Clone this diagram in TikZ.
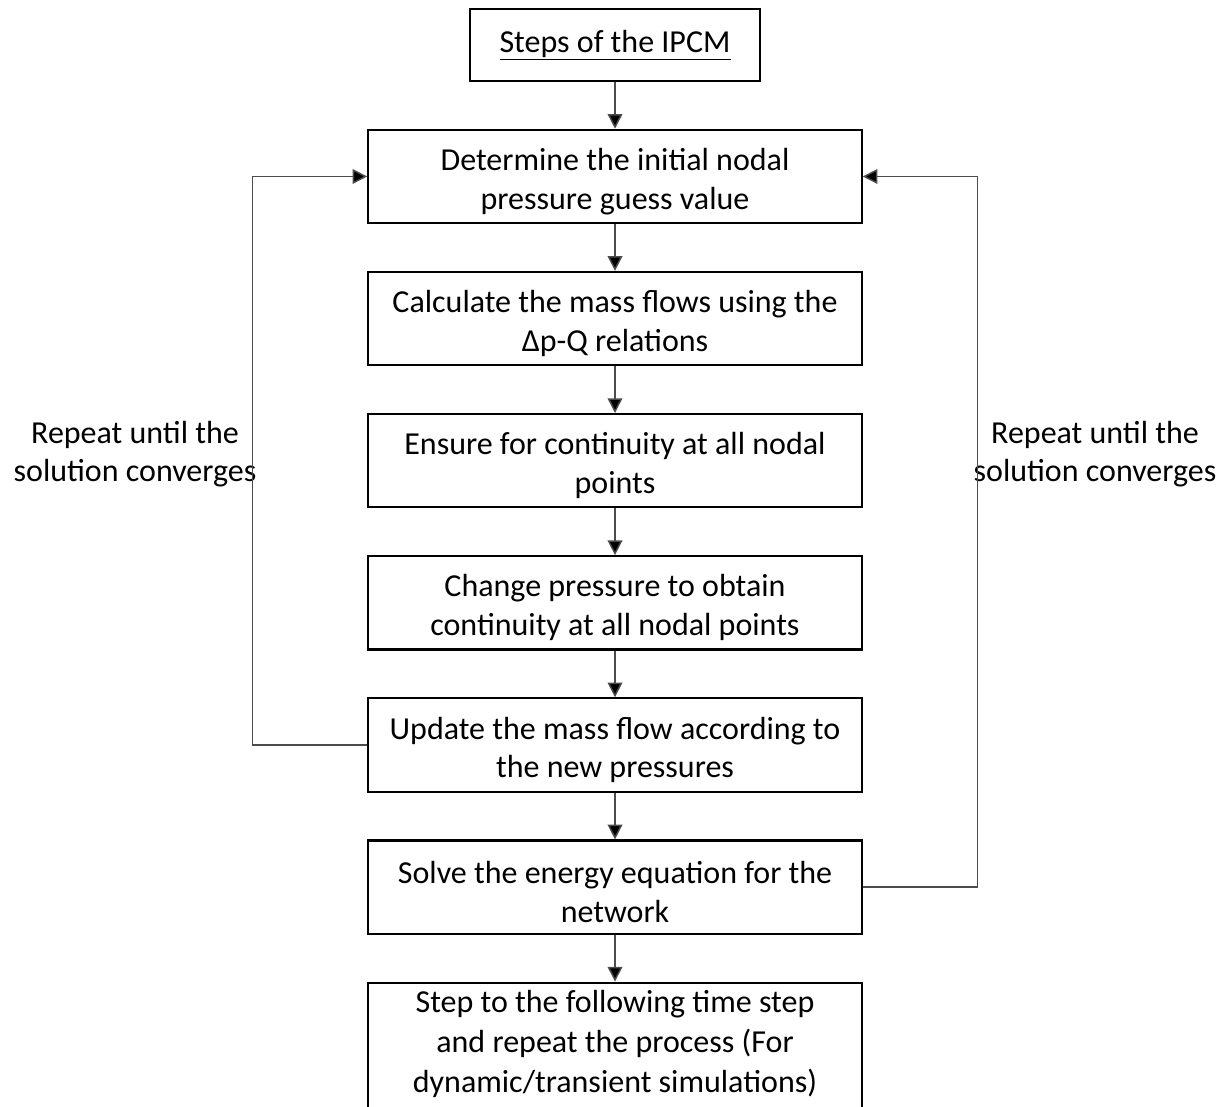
\documentclass[tikz,border=0pt]{standalone}
\usepackage{fontspec}
\setmainfont{Carlito}
\usetikzlibrary{arrows.meta, positioning}

\begin{document}
\begin{tikzpicture}[
    x=0.75pt, y=-0.75pt,
    node distance=35pt,
    every node/.style={
        draw,
        rectangle,
        line width=1.6pt,
        align=center,
        minimum width=370pt,
        minimum height=70pt,
        font=\fontsize{24}{29}\selectfont
    },
    stepbox/.style={text height=53pt},
    arrow/.style={-{Triangle[width=11pt,length=11pt,fill=black]}, line width=1.1pt, draw=black!70},
    note/.style={draw=none, minimum width=0pt, minimum height=0pt}
]
\clip (0,0) rectangle (1227,1106);

% === Title ===
\node[minimum width=217.5pt, minimum height=54pt] (title) at (615,45) {\underline{Steps of the IPCM}};

% === Main steps ===
\node[stepbox, below=of title] (init) {Determine the initial nodal\\pressure guess value};
\node[stepbox, below=of init] (massflow) {Calculate the mass flows using the\\Δp-Q relations};
\node[stepbox, below=of massflow] (continuity) {Ensure for continuity at all nodal\\points};
\node[stepbox, below=of continuity] (pressure) {Change pressure to obtain\\continuity at all nodal points};
\node[stepbox, below=of pressure] (update) {Update the mass flow according to\\the new pressures};
\node[stepbox, below=of update] (energy) {Solve the energy equation for the\\network};
\node[below=of energy, minimum height=104pt, text depth=16pt, font=\fontsize{24}{30}\selectfont] (nextstep) {Step to the following time step\\and repeat the process (For\\dynamic/transient simulations)};

% === Loop labels ===
\node[note] (leftnote) at (135,454) {Repeat until the\\solution converges};
\node[note] (rightnote) at (1095,454) {Repeat until the\\solution converges};

% ============ ARROWS ============
\draw[arrow] (title) -- (init);
\draw[arrow] (init) -- (massflow);
\draw[arrow] (massflow) -- (continuity);
\draw[arrow] (continuity) -- (pressure);
\draw[arrow] (pressure) -- (update);
\draw[arrow] (update) -- (energy);
\draw[arrow] (energy) -- (nextstep);

% Iteration loops
\draw[arrow] (update.west) -- ++(-115,0) |- (init.west);
\draw[arrow] (energy.east) -- ++(115,0) |- (init.east);

\end{tikzpicture}
\end{document}
